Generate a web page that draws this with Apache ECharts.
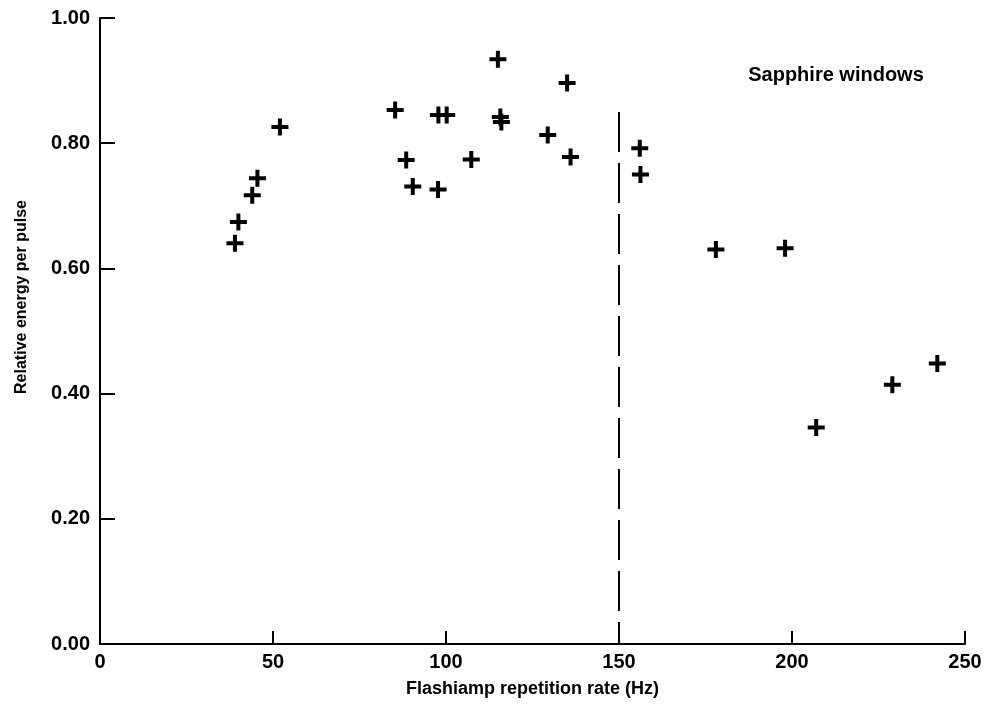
<!DOCTYPE html>
<html>
<head>
<meta charset="utf-8">
<script src="https://cdn.jsdelivr.net/npm/echarts@6/dist/echarts.min.js"></script>
<style>
  html, body { margin: 0; padding: 0; background: #fff; }
  #myChart { width: 990px; height: 707px; }
</style>
</head>
<body>
<div id="myChart"></div>
<script>
// repetition rate (Hz)
var rateHz = [39, 40, 44, 45.5, 52, 85.3, 88.5, 90.4, 97.7, 97.8, 100.2, 107.3, 115, 115.7, 116,
  129.4, 135, 136, 156, 156.2, 178, 198, 207, 229, 242]
// relative energy per pulse
var energy = [0.64, 0.674, 0.717, 0.744, 0.826, 0.853, 0.773, 0.731, 0.726, 0.845, 0.845, 0.774, 0.934, 0.842, 0.834,
  0.813, 0.896, 0.778, 0.792, 0.75, 0.63, 0.632, 0.346, 0.414, 0.448]
// vertical dashed marker
var limitRate = 150
var limitTop = 0.85

var font = '"Liberation Sans", Arial, sans-serif'
var ink = '#000'

var points = rateHz.map(function(x, i) { return [x, energy[i]] })

var myChart = echarts.init(document.getElementById('myChart'))
var option = {
  backgroundColor: '#fff',
  animation: false,
  grid: { left: 100, right: 25, top: 18, bottom: 63 },
  xAxis: {
    type: 'value',
    min: 0,
    max: 250,
    interval: 50,
    name: 'Flashiamp repetition rate (Hz)',
    nameLocation: 'middle',
    nameGap: 36,
    nameTextStyle: { color: ink, fontSize: 18, fontWeight: 'bold', fontFamily: font },
    axisLine: { show: true, lineStyle: { color: ink, width: 2 } },
    axisTick: { show: true, inside: true, length: 13, lineStyle: { color: ink, width: 2 } },
    axisLabel: { color: ink, fontSize: 20, fontWeight: 'bold', fontFamily: font, margin: 8 },
    splitLine: { show: false }
  },
  yAxis: {
    type: 'value',
    min: 0,
    max: 1,
    interval: 0.2,
    axisLine: { show: true, lineStyle: { color: ink, width: 2 } },
    axisTick: { show: true, inside: true, length: 15, lineStyle: { color: ink, width: 2 } },
    axisLabel: {
      color: ink, fontSize: 20, fontWeight: 'bold', fontFamily: font, margin: 10,
      formatter: function(v) { return v.toFixed(2) }
    },
    splitLine: { show: false }
  },
  graphic: [
    {
      type: 'text',
      x: 22,
      y: 297,
      rotation: Math.PI / 2,
      style: {
        text: 'Relative energy per pulse',
        fill: ink,
        font: 'bold 16px ' + font,
        align: 'center',
        verticalAlign: 'middle'
      }
    },
    {
      type: 'text',
      x: 836,
      y: 75,
      style: {
        text: 'Sapphire windows',
        fill: ink,
        font: 'bold 20px ' + font,
        align: 'center',
        verticalAlign: 'middle'
      }
    }
  ],
  series: [
    {
      type: 'scatter',
      data: points,
      symbol: 'path://M6.5,0H10.5V6.5H17V10.5H10.5V17H6.5V10.5H0V6.5H6.5Z',
      symbolSize: 17,
      itemStyle: { color: '#000', opacity: 1 },
      markLine: {
        silent: true,
        symbol: 'none',
        label: { show: false },
        lineStyle: { color: ink, width: 2, type: [40, 11], opacity: 1 },
        data: [[{ coord: [limitRate, limitTop] }, { coord: [limitRate, 0] }]]
      }
    }
  ]
}
myChart.setOption(option)
</script>
</body>
</html>
